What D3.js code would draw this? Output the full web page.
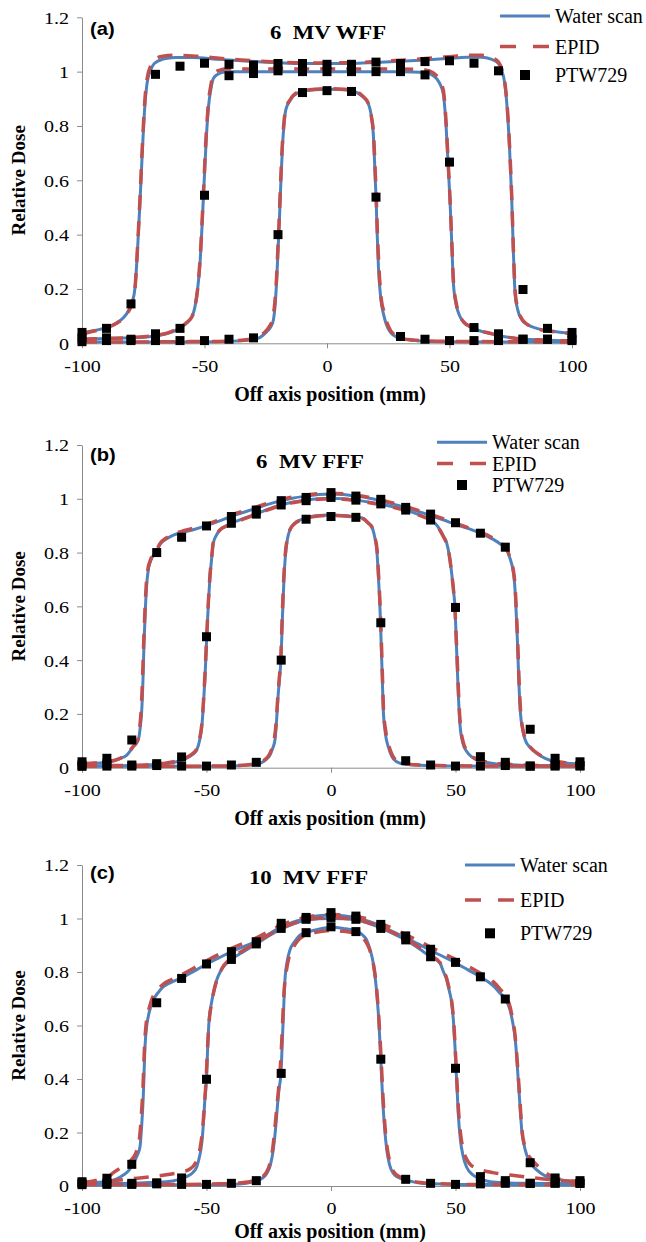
<!DOCTYPE html>
<html>
<head>
<meta charset="utf-8">
<script src="https://cdn.jsdelivr.net/npm/d3@7"></script>
<style>
  body { margin: 0; background: #fff; }
  svg { display: block; }
</style>
</head>
<body>
<div id="chart"></div>
<script>
// ---- axes / legend ----
const xTicks = [-100, -50, 0, 50, 100];
const yTicks = [0, 0.2, 0.4, 0.6, 0.8, 1, 1.2];
const legendLabels = ["Water scan", "EPID", "PTW729"];
const panelTags = ["(a)", "(b)", "(c)"];
const panelTitles = ["6\u00a0\u00a0MV WFF", "6\u00a0\u00a0MV FFF", "10\u00a0\u00a0MV FFF"];

// ---- (a) 6 MV WFF : [off axis mm, relative dose] ----
const wff6Water150 = [[-100,.038],[-95,.047],[-90,.058],[-86,.075],[-83,.095],[-81,.12],[-79.5,.15],[-78.3,.21],[-77.3,.35],[-76.3,.527],[-75.3,.72],[-74.3,.88],[-73.4,.96],[-72,1.005],[-70.5,1.03],[-67,1.046],[-62,1.052],[-55,1.052],[-45,1.046],[-35,1.04],[-20,1.033],[-10,1.03],[0,1.03],[10,1.03],[20,1.034],[30,1.038],[40,1.043],[50,1.049],[57,1.053],[63,1.053],[67,1.046],[70,1.03],[71.5,1.0],[72.5,.96],[73.5,.87],[74.5,.72],[75.4,.53],[76.1,.33],[76.8,.18],[77.8,.125],[79.5,.088],[82,.068],[85.6,.055],[90,.047],[95,.041],[100,.037]];
const wff6Epid150 = [[-100,.035],[-95,.045],[-90,.057],[-86,.073],[-83,.093],[-81,.118],[-79.5,.148],[-78.3,.21],[-77.3,.36],[-76.3,.54],[-75.3,.74],[-74.3,.9],[-73.4,.975],[-72,1.02],[-70.5,1.043],[-67,1.057],[-62,1.06],[-55,1.058],[-45,1.05],[-35,1.043],[-20,1.035],[-10,1.032],[0,1.032],[10,1.033],[20,1.037],[30,1.042],[40,1.048],[50,1.055],[57,1.06],[63,1.06],[67,1.052],[70,1.035],[71.5,1.005],[72.5,.965],[73.5,.88],[74.5,.73],[75.4,.54],[76.1,.34],[76.8,.19],[77.8,.13],[79.5,.09],[82,.068],[85.6,.054],[90,.046],[95,.04],[100,.036]];
const wff6Water100 = [[-100,.015],[-90,.018],[-80,.02],[-70,.027],[-63,.043],[-57.5,.073],[-55,.1],[-53.9,.134],[-52.8,.2],[-51.8,.3],[-50.5,.526],[-49.3,.75],[-48.4,.868],[-47.3,.94],[-46.4,.975],[-44,.993],[-41,1.0],[-30,1.0],[-15,1.0],[0,1.0],[15,1.0],[30,1.0],[40,.997],[43.4,.985],[45.8,.96],[47.5,.917],[48.6,.8],[49.5,.648],[50.2,.526],[51,.35],[51.6,.22],[52.8,.14],[54.3,.098],[56,.075],[58.4,.061],[62,.047],[66.5,.037],[72,.025],[77.4,.018],[88,.012],[100,.008]];
const wff6Epid100 = [[-100,.015],[-90,.018],[-80,.021],[-70,.029],[-63,.045],[-57.5,.075],[-55,.1],[-53.9,.135],[-52.8,.2],[-51.8,.31],[-50.5,.54],[-49.3,.77],[-48.4,.885],[-47.3,.955],[-46.4,.99],[-44,1.005],[-41,1.01],[-30,1.01],[-15,1.01],[0,1.01],[15,1.01],[30,1.01],[40,1.006],[43.4,.995],[45.8,.97],[47.5,.93],[48.6,.815],[49.5,.66],[50.2,.535],[51,.36],[51.6,.23],[52.8,.145],[54.3,.1],[56,.077],[58.4,.062],[62,.048],[66.5,.037],[72,.025],[77.4,.018],[88,.012],[100,.009]];
const wff6Water40 = [[-100,.005],[-80,.005],[-60,.005],[-45,.006],[-38,.008],[-32,.012],[-29,.017],[-27.3,.022],[-24.6,.043],[-23,.06],[-21.9,.085],[-21.1,.15],[-20.5,.24],[-19.9,.36],[-19.4,.46],[-18.8,.6],[-18.2,.72],[-17.6,.8],[-16.8,.86],[-15,.895],[-13.8,.91],[-10,.928],[-5,.933],[0,.935],[5,.934],[10,.93],[14.2,.911],[16.9,.881],[18.2,.83],[18.9,.77],[19.5,.65],[20,.538],[20.5,.4],[21,.28],[22,.16],[23,.11],[24.2,.07],[25.7,.043],[27.5,.028],[29.8,.018],[35,.011],[40,.008],[50,.006],[70,.005],[100,.005]];
const wff6Epid40 = [[-100,.005],[-80,.005],[-60,.006],[-45,.007],[-38,.009],[-32,.014],[-29,.02],[-27.3,.027],[-25,.045],[-23.3,.065],[-22.2,.09],[-21.3,.15],[-20.6,.24],[-20,.36],[-19.5,.46],[-18.9,.6],[-18.3,.72],[-17.7,.8],[-16.9,.862],[-15,.897],[-13.8,.912],[-10,.93],[-5,.935],[0,.937],[5,.936],[10,.932],[14.2,.913],[16.9,.883],[18.2,.83],[19,.77],[19.6,.65],[20.1,.538],[20.6,.4],[21.2,.28],[22.2,.16],[23.3,.115],[24.5,.075],[26,.046],[27.8,.03],[30,.02],[35,.012],[40,.009],[50,.007],[70,.006],[100,.005]];
const wff6Ptw = [
  [-100,.04],[-90,.055],[-80,.145],[-70,.99],[-60,1.02],[-50,1.031],[-40,1.027],[-30,1.024],[-20,1.03],[-10,1.03],[0,1.027],[10,1.027],[20,1.035],[30,1.03],[40,1.037],[50,1.04],[60,1.031],[70,1.003],[80,.198],[90,.055],[100,.04],
  [-100,.02],[-90,.02],[-80,.015],[-70,.035],[-60,.055],[-50,.545],[-40,.985],[-30,.993],[-20,1.003],[-10,1.0],[0,1.0],[10,1.0],[20,1.0],[30,1.0],[40,.988],[50,.667],[60,.058],[70,.035],[80,.015],[90,.015],[100,.015],
  [-100,.006],[-90,.01],[-80,.01],[-70,.01],[-60,.01],[-50,.01],[-40,.015],[-30,.02],[-20,.4],[-10,.923],[0,.93],[10,.927],[20,.538],[30,.025],[40,.015],[50,.01],[60,.01],[70,.01],[80,.015],[90,.015],[100,.01]
];

// ---- (b) 6 MV FFF ----
const fff6Water150 = [[-100,.014],[-94,.017],[-88.8,.022],[-85,.033],[-82,.047],[-79.4,.078],[-77.4,.103],[-76.5,.16],[-76,.215],[-75.5,.33],[-75.1,.463],[-74.6,.58],[-74.1,.67],[-73.4,.735],[-72.6,.765],[-72,.779],[-70,.805],[-68.7,.83],[-66,.851],[-63.3,.865],[-60,.874],[-55,.886],[-50,.9],[-45,.917],[-40,.935],[-35,.95],[-30,.965],[-25,.98],[-20,.993],[-15,1.003],[-10,1.01],[-5,1.016],[0,1.018],[5,1.016],[10,1.01],[15,1.003],[20,.993],[25,.98],[30,.967],[35,.953],[40,.938],[45,.922],[50,.905],[55,.89],[60,.872],[65,.85],[68,.832],[70.6,.81],[72,.775],[73,.74],[73.6,.7],[74.1,.63],[74.5,.55],[74.9,.463],[75.4,.33],[76,.215],[77,.14],[78,.103],[80,.075],[82.6,.054],[86,.035],[90.6,.022],[95,.017],[100,.015]];
const fff6Epid150 = [[-100,.015],[-94,.018],[-88.8,.023],[-85,.034],[-82,.05],[-79.4,.08],[-77.6,.103],[-76.7,.16],[-76.2,.22],[-75.7,.33],[-75.2,.47],[-74.7,.59],[-74.2,.68],[-73.5,.74],[-72.6,.77],[-72,.785],[-70,.81],[-68.7,.833],[-66,.855],[-63.3,.869],[-60,.879],[-55,.891],[-50,.905],[-45,.922],[-40,.94],[-35,.955],[-30,.97],[-25,.984],[-20,.997],[-15,1.007],[-10,1.014],[-5,1.019],[0,1.021],[5,1.019],[10,1.014],[15,1.006],[20,.996],[25,.984],[30,.971],[35,.957],[40,.942],[45,.926],[50,.909],[55,.893],[60,.876],[65,.854],[68,.836],[70.6,.812],[72,.778],[73,.745],[73.7,.7],[74.2,.63],[74.6,.55],[75,.463],[75.5,.33],[76.1,.215],[77.1,.14],[78.2,.103],[80.2,.075],[82.8,.054],[86,.036],[90.6,.023],[95,.018],[100,.015]];
const fff6Water100 = [[-100,.006],[-90,.007],[-80,.008],[-72,.011],[-66,.016],[-62,.022],[-58,.035],[-55.5,.05],[-53.9,.066],[-52.8,.1],[-51.9,.152],[-51.2,.24],[-50.6,.338],[-49.9,.487],[-49.2,.62],[-48.6,.71],[-47.9,.78],[-47.3,.834],[-46,.865],[-44.6,.884],[-42,.9],[-40,.909],[-35,.927],[-30,.944],[-25,.962],[-20,.977],[-15,.988],[-10,.995],[-5,1.0],[0,1.002],[5,1.0],[10,.995],[15,.988],[20,.98],[25,.97],[30,.958],[35,.942],[40,.922],[42,.907],[43.8,.884],[45.2,.86],[46.5,.834],[47.5,.79],[48.5,.72],[49.3,.65],[49.8,.596],[50.2,.5],[50.6,.4],[51.2,.26],[51.8,.16],[53,.09],[54.5,.06],[56.5,.04],[58.5,.029],[62,.02],[66.5,.014],[72,.011],[80,.008],[90,.007],[100,.006]];
const fff6Epid100 = [[-100,.007],[-90,.008],[-80,.009],[-72,.012],[-66,.018],[-62,.025],[-58,.038],[-55.5,.053],[-53.9,.07],[-52.8,.105],[-51.9,.16],[-51.2,.25],[-50.6,.35],[-49.9,.49],[-49.2,.625],[-48.6,.715],[-47.9,.785],[-47.3,.836],[-46,.866],[-44.6,.884],[-42,.898],[-40,.906],[-35,.925],[-30,.942],[-25,.96],[-20,.975],[-15,.986],[-10,.993],[-5,.998],[0,1.0],[5,.998],[10,.993],[15,.986],[20,.978],[25,.968],[30,.956],[35,.94],[40,.92],[42,.905],[43.8,.882],[45.2,.858],[46.5,.832],[47.5,.79],[48.5,.72],[49.3,.65],[49.8,.59],[50.2,.5],[50.7,.4],[51.3,.26],[51.9,.165],[53.1,.095],[54.6,.063],[56.5,.043],[58.5,.031],[62,.022],[66.5,.015],[72,.012],[80,.009],[90,.008],[100,.007]];
const fff6Water40 = [[-100,.005],[-70,.005],[-50,.005],[-40,.006],[-34,.009],[-30,.013],[-28.5,.016],[-26.5,.027],[-24.5,.047],[-23.5,.07],[-22.5,.103],[-21.9,.17],[-21.3,.26],[-20.7,.33],[-20.1,.4],[-19.5,.56],[-18.9,.7],[-18.3,.79],[-17.5,.85],[-16.5,.884],[-14.5,.91],[-12.4,.921],[-10,.93],[-5,.938],[0,.94],[5,.938],[10,.933],[13,.927],[15,.91],[16.4,.896],[17.5,.86],[18.4,.81],[19.1,.7],[19.7,.586],[20.2,.45],[20.6,.33],[21,.215],[21.8,.13],[23,.078],[24.5,.04],[26.4,.022],[28.5,.015],[31,.012],[40,.008],[50,.006],[100,.005]];
const fff6Epid40 = [[-100,.005],[-70,.005],[-50,.006],[-40,.007],[-34,.01],[-30,.015],[-28.5,.019],[-26.5,.03],[-24.7,.05],[-23.6,.075],[-22.7,.11],[-22,.17],[-21.4,.26],[-20.8,.33],[-20.2,.4],[-19.6,.56],[-19,.7],[-18.4,.79],[-17.6,.85],[-16.6,.883],[-14.5,.908],[-12.4,.92],[-10,.928],[-5,.936],[0,.938],[5,.936],[10,.931],[13,.925],[15,.909],[16.4,.895],[17.5,.86],[18.5,.81],[19.2,.7],[19.8,.586],[20.3,.45],[20.7,.33],[21.1,.215],[22,.135],[23.2,.082],[24.7,.045],[26.6,.025],[28.5,.017],[31,.013],[40,.009],[50,.007],[100,.006]];
const fff6Ptw = [
  [-100,.022],[-90,.035],[-80,.103],[-70,.8],[-60,.857],[-50,.899],[-40,.934],[-30,.958],[-20,.993],[-10,1.005],[0,1.023],[10,1.01],[20,.998],[30,.968],[40,.943],[50,.911],[60,.872],[70,.82],[80,.143],[90,.035],[100,.022],
  [-100,.01],[-90,.015],[-80,.01],[-70,.015],[-60,.04],[-50,.487],[-40,.909],[-30,.943],[-20,.977],[-10,.993],[0,1.005],[10,.995],[20,.981],[30,.958],[40,.921],[50,.596],[60,.041],[70,.02],[80,.006],[90,.01],[100,.008],
  [-100,.005],[-90,.006],[-80,.006],[-70,.008],[-60,.006],[-50,.006],[-40,.01],[-30,.02],[-20,.4],[-10,.924],[0,.934],[10,.931],[20,.539],[30,.026],[40,.01],[50,.006],[60,.006],[70,.008],[80,.006],[90,.006],[100,.006]
];

// ---- (c) 10 MV FFF ----
const fff10Water150 = [[-100,.01],[-95,.013],[-90,.016],[-86,.027],[-83.4,.041],[-81,.06],[-79.4,.085],[-77.8,.115],[-76.7,.147],[-76,.23],[-75.4,.334],[-74.7,.52],[-74,.6],[-73.4,.633],[-72.4,.67],[-71.4,.695],[-69.5,.722],[-67.3,.745],[-64,.762],[-60,.778],[-55,.803],[-50,.83],[-45,.853],[-40,.876],[-35,.895],[-30,.915],[-25,.942],[-20,.968],[-15,.987],[-10,1.0],[-5,1.01],[0,1.013],[5,1.01],[10,1.003],[15,.99],[20,.972],[25,.95],[30,.928],[35,.905],[40,.88],[45,.858],[50,.834],[55,.808],[60,.782],[65,.75],[68,.72],[70,.7],[71.9,.658],[73,.61],[73.9,.558],[74.6,.48],[75.2,.396],[75.9,.3],[76.6,.209],[77.5,.155],[78.6,.116],[80.5,.082],[82.6,.06],[86,.038],[89.3,.029],[94,.02],[100,.015]];
const fff10Epid150 = [[-100,.012],[-95,.02],[-90,.03],[-87.4,.05],[-85,.065],[-82,.085],[-80,.1],[-78.3,.125],[-77,.17],[-76.2,.26],[-75.5,.37],[-74.9,.52],[-74.2,.61],[-73.4,.65],[-72.4,.685],[-71.4,.71],[-69.5,.735],[-67.3,.755],[-64,.772],[-60,.79],[-55,.815],[-50,.842],[-45,.866],[-40,.888],[-35,.908],[-30,.928],[-25,.952],[-20,.975],[-15,.993],[-10,1.005],[-5,1.012],[0,1.015],[5,1.013],[10,1.008],[15,.998],[20,.982],[25,.962],[30,.94],[35,.917],[40,.893],[45,.87],[50,.847],[55,.822],[60,.795],[65,.765],[68,.735],[70,.712],[71.9,.67],[73,.62],[73.9,.565],[74.6,.49],[75.3,.4],[76,.3],[76.8,.2],[77.8,.15],[79,.12],[81,.095],[83,.075],[85.3,.055],[89,.035],[94,.022],[100,.016]];
const fff10Water100 = [[-100,.008],[-90,.009],[-80,.01],[-72,.013],[-66,.016],[-62,.022],[-58,.035],[-55.5,.05],[-53.9,.072],[-52.8,.11],[-51.9,.16],[-51.2,.24],[-50.6,.334],[-50,.4],[-49.6,.5],[-49.1,.6],[-48.5,.655],[-47.9,.69],[-46.9,.735],[-45.9,.77],[-44.5,.8],[-43.2,.82],[-40,.847],[-35,.877],[-30,.905],[-25,.935],[-20,.96],[-15,.98],[-10,.993],[-5,.999],[0,1.0],[5,.999],[10,.995],[15,.982],[20,.965],[25,.943],[30,.92],[35,.89],[40,.857],[43.8,.832],[45.2,.8],[46.5,.77],[47.5,.73],[48.5,.683],[49.3,.6],[49.8,.52],[50.2,.44],[50.7,.35],[51.1,.272],[52,.17],[53.1,.11],[54.5,.07],[57.1,.041],[60,.027],[63.9,.016],[70,.012],[80,.01],[90,.009],[100,.008]];
const fff10Epid100 = [[-100,.012],[-90,.018],[-80,.027],[-70,.037],[-64,.045],[-60,.052],[-57,.062],[-55,.078],[-53.7,.1],[-52.6,.14],[-51.7,.2],[-51,.28],[-50.4,.36],[-49.9,.45],[-49.4,.55],[-48.8,.63],[-48,.68],[-47,.73],[-46,.765],[-44.5,.8],[-43,.825],[-40,.852],[-35,.882],[-30,.91],[-25,.938],[-20,.963],[-15,.982],[-10,.995],[-5,1.001],[0,1.003],[5,1.001],[10,.997],[15,.985],[20,.968],[25,.947],[30,.925],[35,.895],[40,.862],[43.8,.835],[45.2,.805],[46.5,.775],[47.5,.735],[48.5,.688],[49.3,.61],[49.8,.53],[50.3,.44],[50.8,.35],[51.3,.27],[52.1,.19],[53,.14],[54.5,.1],[56,.08],[58,.068],[61,.058],[65,.05],[72,.041],[80,.032],[90,.022],[100,.016]];
const fff10Water40 = [[-100,.005],[-70,.005],[-50,.005],[-40,.006],[-34,.01],[-29.8,.02],[-27.5,.03],[-25.8,.047],[-24.3,.08],[-23.2,.135],[-22.3,.21],[-21.5,.3],[-20.9,.36],[-20.1,.42],[-19.6,.53],[-19.2,.62],[-18.5,.77],[-17.5,.845],[-16.5,.882],[-14.5,.915],[-12.5,.938],[-10,.947],[-5,.96],[0,.967],[5,.963],[10,.953],[12.5,.94],[14.3,.92],[15.8,.88],[17,.832],[18.2,.74],[19,.646],[20,.474],[20.7,.334],[21.5,.22],[22.4,.135],[23.5,.08],[25,.047],[27.5,.03],[30.4,.022],[35,.012],[40,.008],[50,.006],[100,.005]];
const fff10Epid40 = [[-100,.006],[-60,.006],[-45,.008],[-36,.012],[-31,.02],[-28,.032],[-26,.05],[-24.5,.085],[-23.4,.14],[-22.4,.23],[-21.5,.32],[-20.7,.4],[-20,.5],[-19.5,.6],[-18.9,.72],[-18,.8],[-17,.85],[-15.5,.885],[-13.5,.915],[-11,.935],[-5,.95],[0,.955],[5,.952],[10,.943],[12.5,.93],[14.5,.905],[16,.87],[17.2,.82],[18.3,.74],[19.2,.63],[20.1,.48],[20.9,.33],[21.7,.22],[22.6,.14],[23.8,.085],[25.3,.052],[27.8,.033],[31,.022],[36,.013],[42,.009],[55,.006],[100,.006]];
const fff10Ptw = [
  [-100,.016],[-90,.029],[-80,.081],[-70,.685],[-60,.776],[-50,.83],[-40,.876],[-30,.913],[-20,.982],[-10,1.004],[0,1.022],[10,1.009],[20,.978],[30,.935],[40,.885],[50,.836],[60,.782],[70,.699],[80,.087],[90,.03],[100,.02],
  [-100,.01],[-90,.012],[-80,.01],[-70,.012],[-60,.03],[-50,.399],[-40,.847],[-30,.905],[-20,.963],[-10,.997],[0,1.004],[10,.997],[20,.963],[30,.92],[40,.857],[50,.44],[60,.035],[70,.02],[80,.01],[90,.012],[100,.01],
  [-100,.005],[-90,.006],[-80,.006],[-70,.008],[-60,.006],[-50,.006],[-40,.01],[-30,.02],[-20,.421],[-10,.947],[0,.969],[10,.951],[20,.474],[30,.025],[40,.01],[50,.006],[60,.008],[70,.01],[80,.01],[90,.01],[100,.01]
];

// ---- layout ----
const W = 646, H = 1242;
const BLUE = "#4f81bd", RED = "#c0504d", AXIS = "#8c8c8c";
const SERIF = "'Liberation Serif','Times New Roman',serif";
const SANS = "'Liberation Sans',Arial,sans-serif";
const STRETCH = "scale(1.18,1)";

const panels = [
  { water: [wff6Water40, wff6Water100, wff6Water150], epid: [wff6Epid40, wff6Epid100, wff6Epid150], ptw: wff6Ptw,
    xRange: [82, 572], yRange: [343.3, 17.3], tagY: 34.5, title: [328, 39], xTitleY: 401,
    legend: { x0: 500, x1: 550, mx: 525, tx: 555, rows: [16, 46.5, 75] } },
  { water: [fff6Water40, fff6Water100, fff6Water150], epid: [fff6Epid40, fff6Epid100, fff6Epid150], ptw: fff6Ptw,
    xRange: [82, 580], yRange: [767.7, 445], tagY: 461, title: [310, 468], xTitleY: 825,
    legend: { x0: 437, x1: 487, mx: 462, tx: 492, rows: [442.3, 463.5, 485] } },
  { water: [fff10Water40, fff10Water100, fff10Water150], epid: [fff10Epid40, fff10Epid100, fff10Epid150], ptw: fff10Ptw,
    xRange: [82, 580], yRange: [1186, 865], tagY: 879, title: [308.5, 884], xTitleY: 1238,
    legend: { x0: 465, x1: 515, mx: 490, tx: 520, rows: [865, 900, 933.3] } }
];

const fmt = d => (d < 0 ? "-" + Math.abs(d) : String(d));

const svg = d3.select("#chart").append("svg")
  .attr("width", W).attr("height", H)
  .style("background", "#fff");

panels.forEach((p, i) => drawPanel(p, i));

function drawPanel(p, i) {
  const x = d3.scaleLinear().domain([-100, 100]).range(p.xRange);
  const y = d3.scaleLinear().domain([0, 1.2]).range(p.yRange);
  const g = svg.append("g");

  // axes
  const yAx = g.append("g").attr("transform", `translate(${x(-100)},0)`)
    .call(d3.axisLeft(y).tickValues(yTicks).tickSize(5).tickSizeOuter(0).tickFormat(fmt));
  const xAx = g.append("g").attr("transform", `translate(0,${y(0)})`)
    .call(d3.axisBottom(x).tickValues(xTicks).tickSize(5).tickSizeOuter(0).tickFormat(fmt));
  [yAx, xAx].forEach(a => {
    a.attr("font-family", null).attr("font-size", null);
    a.selectAll("path, line").attr("stroke", AXIS).attr("stroke-width", 1);
    a.selectAll("text").attr("font-family", SERIF).attr("font-size", 17).attr("fill", "#000")
      .attr("transform", STRETCH);
  });
  yAx.selectAll("text").attr("x", -11).attr("dy", "0.35em");
  xAx.selectAll("text").attr("y", 28.5).attr("dy", 0);

  // curves: water scan under, EPID dashed on top
  const line = d3.line().x(d => x(d[0])).y(d => y(d[1])).curve(d3.curveMonotoneX);
  g.append("g").selectAll("path").data(p.water).join("path")
    .attr("d", line).attr("fill", "none")
    .attr("stroke", BLUE).attr("stroke-width", 3);
  g.append("g").selectAll("path").data(p.epid).join("path")
    .attr("d", line).attr("fill", "none")
    .attr("stroke", RED).attr("stroke-width", 3.5).attr("stroke-dasharray", "15,11");

  // PTW729 points
  const s = 9;
  g.append("g").selectAll("rect").data(p.ptw).join("rect")
    .attr("x", d => x(d[0]) - s / 2).attr("y", d => y(d[1]) - s / 2)
    .attr("width", s).attr("height", s).attr("fill", "#000");

  // labels
  g.append("text").attr("transform", `translate(90,${p.tagY}) scale(1.12,1)`)
    .attr("font-family", SANS).attr("font-weight", "bold").attr("font-size", 18)
    .text(panelTags[i]);
  g.append("text").attr("transform", `translate(${p.title[0]},${p.title[1]}) scale(1.2,1)`)
    .attr("text-anchor", "middle").attr("font-family", SERIF).attr("font-weight", "bold")
    .attr("font-size", 19).text(panelTitles[i]);
  g.append("text").attr("x", 330).attr("y", p.xTitleY).attr("text-anchor", "middle")
    .attr("font-family", SERIF).attr("font-weight", "bold").attr("font-size", 20)
    .text("Off axis position (mm)");
  g.append("text").attr("transform", `translate(25,${y(0.6)}) rotate(-90)`)
    .attr("text-anchor", "middle").attr("font-family", SERIF).attr("font-weight", "bold")
    .attr("font-size", 19).text("Relative Dose");

  // legend
  const L = p.legend;
  const lg = g.append("g");
  lg.append("line").attr("x1", L.x0).attr("x2", L.x1).attr("y1", L.rows[0]).attr("y2", L.rows[0])
    .attr("stroke", BLUE).attr("stroke-width", 3);
  lg.append("line").attr("x1", L.x0).attr("x2", L.x1).attr("y1", L.rows[1]).attr("y2", L.rows[1])
    .attr("stroke", RED).attr("stroke-width", 3.5).attr("stroke-dasharray", "16,17");
  lg.append("rect").attr("x", L.mx - 5).attr("y", L.rows[2] - 5).attr("width", 10).attr("height", 10)
    .attr("fill", "#000");
  lg.selectAll("text").data(legendLabels).join("text")
    .attr("x", L.tx).attr("y", (d, k) => L.rows[k]).attr("dy", "0.35em")
    .attr("font-family", SERIF).attr("font-size", 20).attr("fill", "#000")
    .text(d => d);
}
</script>
</body>
</html>
